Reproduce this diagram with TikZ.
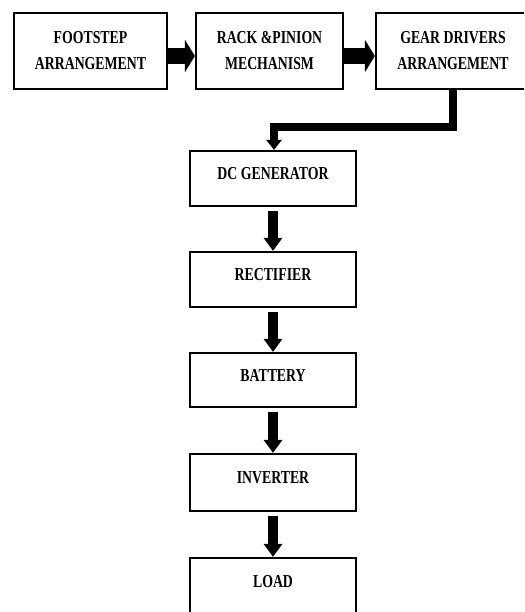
\documentclass[tikz,border=0pt]{standalone}
\usepackage{fontspec}
\setmainfont{Liberation Serif}
\usepackage{graphicx}
\usetikzlibrary{arrows.meta}
\newcommand{\bx}[1]{\scalebox{1}[1.32]{\begin{tabular}{@{}c@{}}#1\end{tabular}}}
\begin{document}
\begin{tikzpicture}[x=1pt,y=-1pt,
 txt/.style={font=\fontsize{13.8}{19.5}\selectfont\bfseries,inner sep=0pt},
 blk/.style={draw,line width=2.2pt,inner sep=0pt,txt},
 top/.style={blk,minimum height=76pt},
 col/.style={blk,minimum width=166pt},
 lab/.style={txt,yshift=4pt},
 harr/.style={line width=16pt,-{Triangle[width=32pt,length=10pt]}},
 varr/.style={line width=10pt,-{Triangle[width=18pt,length=13pt]}},
 garr/.style={line width=8pt,line join=miter,-{Triangle[width=15pt,length=10pt]}}]
\useasboundingbox (0,0) rectangle (524,612);
\clip (0,0) rectangle (524,612);
\node[top,minimum width=153pt] (foot) at (90.5,51) {\bx{FOOTSTEP\\ARRANGEMENT}};
\node[top,minimum width=147pt] (rack) at (269.5,51) {\bx{RACK \&PINION\\MECHANISM}};
\node[top,minimum width=154pt] (gear) at (453,51) {\bx{GEAR DRIVERS\\ARRANGEMENT}};
\node[col,minimum height=55pt,label={[lab]center:\bx{DC GENERATOR}}] (dc) at (273,178.5) {};
\node[col,minimum height=55pt,label={[lab]center:\bx{RECTIFIER}}] (rect) at (273,279.5) {};
\node[col,minimum height=54pt,label={[lab]center:\bx{BATTERY}}] (bat) at (273,380) {};
\node[col,minimum height=57pt,label={[lab]center:\bx{INVERTER}}] (inv) at (273,482.5) {};
\node[col,minimum height=57pt,label={[lab]center:\bx{LOAD}}] (load) at (273,586.5) {};
\draw[harr] ([yshift=-5pt]foot.east) -- ([yshift=-5pt]rack.west);
\draw[harr] ([yshift=-5pt]rack.east) -- ([yshift=-5pt]gear.west);
\draw[garr] (gear.south) -- ++(0,37) -| ([xshift=1pt]dc.north);
\draw[varr] ([yshift=-4pt]dc.south) -- (rect.north);
\draw[varr] ([yshift=-4pt]rect.south) -- (bat.north);
\draw[varr] ([yshift=-4pt]bat.south) -- (inv.north);
\draw[varr] ([yshift=-4pt]inv.south) -- (load.north);
\end{tikzpicture}
\end{document}
